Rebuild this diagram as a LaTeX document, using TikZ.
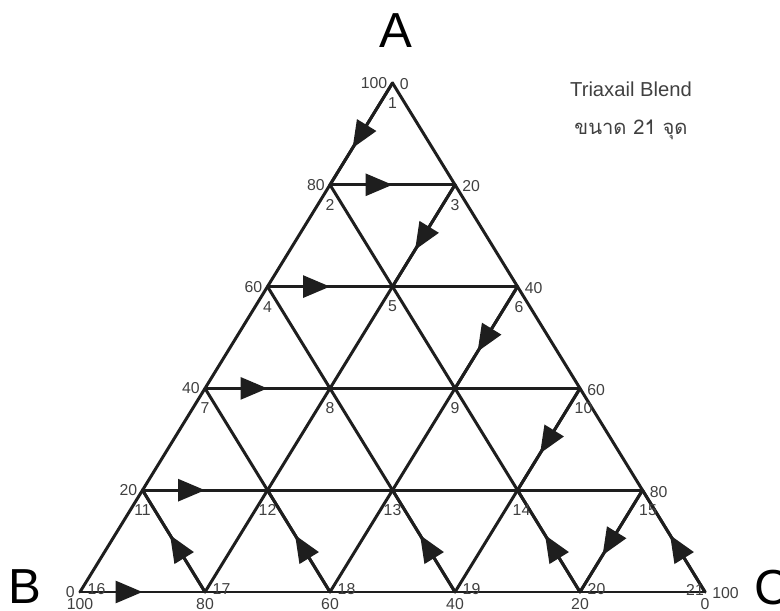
\documentclass[tikz,border=0pt]{standalone}
\usepackage{fontspec}
\setmainfont{Liberation Sans}
\newfontfamily\thaifont[Script=Thai]{Loma}
\usetikzlibrary{arrows.meta,decorations.markings,calc}
\definecolor{ink}{HTML}{1E1E1E}
\definecolor{muted}{HTML}{404040}
\tikzset{
  grid/.style   = {draw=ink, line width=1.7pt, line cap=round, line join=round},
  num/.style    = {font=\fontsize{9}{10}\selectfont, text=muted, inner sep=0pt},
  corner/.style = {font=\fontsize{28}{30}\selectfont, text=black, inner sep=0pt},
  flow/.style   = {postaction={decorate}, decoration={markings,
                   mark=at position #1 with {\arrow{Triangle[length=5.4mm,width=4.4mm]}}}},
}

\begin{document}
\begin{tikzpicture}[font=\fontsize{11.5}{13}\selectfont]
    \useasboundingbox (0,0) rectangle (15.6,12.22);
    \foreach \r in {0,...,5}{
      \foreach \k in {0,...,\r}{
        \pgfmathtruncatemacro\n{\r*(\r+1)/2+\k+1}
        \coordinate (n\n) at ({7.85+(\k-\r/2)*2.5},{10.56-2.036*\r});}}
    \foreach \a/\b in {1/16, 3/17, 6/18, 10/19, 15/20, 1/21, 2/20, 4/19, 7/18, 11/17,
                       2/3, 4/6, 7/10, 11/15, 16/21}
      \draw[grid] (n\a) -- (n\b);
    \foreach \a/\b/\p in {2/3/0.5, 4/5/0.5, 7/8/0.5, 11/12/0.5, 16/17/0.5,
                          1/2/0.64, 3/5/0.64, 6/9/0.64, 10/14/0.64, 15/20/0.64,
                          17/11/0.56, 18/12/0.56, 19/13/0.56, 20/14/0.56, 21/15/0.56}
      \draw[grid, flow=\p] (n\a) -- (n\b);
    \foreach \i/\dx in {1/0, 2/0, 3/0, 4/0, 5/0, 6/0.03, 7/0, 8/0, 9/0, 10/0.07,
                        11/0, 12/0, 13/0, 14/0.08, 15/0.11}
      \node[num] (l\i) at ($(n\i)+(\dx,-0.4)$) {\i};
    \foreach \i in {16,...,20}
      \node[num] (l\i) at ($(n\i)+(0.33,0.05)$) {\i};
    \node[num] (l21) at ($(n21)+(-0.2,0.05)$) {21};
    \foreach \i/\lab in {1/100, 2/80, 4/60, 7/40, 11/20, 16/0}
      \node[num, anchor=east] (pl\i) at ($(n\i)+(-0.1,0)$) {\lab};
    \foreach \i/\lab in {1/0, 3/20, 6/40, 10/60, 15/80, 21/100}
      \node[num, anchor=west] (pr\i) at ($(n\i)+(0.14,-0.03)$) {\lab};
    \foreach \i/\lab in {16/100, 17/80, 18/60, 19/40, 20/20, 21/0}
      \node[num] (pb\i) at ($(n\i)+(0,-0.24)$) {\lab};
    \node[corner] (cA) at (7.92,11.6) {A};
    \node[corner] (cB) at (0.5,0.48) {B};
    \node[corner] (cC) at (15.44,0.46) {C};
    \node[text=muted] (title) at (12.62,10.44) {Triaxail Blend};
    \node[text=muted, font=\thaifont\fontsize{11.5}{13}\selectfont] (size) at (12.62,9.62) {ขนาด 21 จุด};
  \end{tikzpicture}
\end{document}
